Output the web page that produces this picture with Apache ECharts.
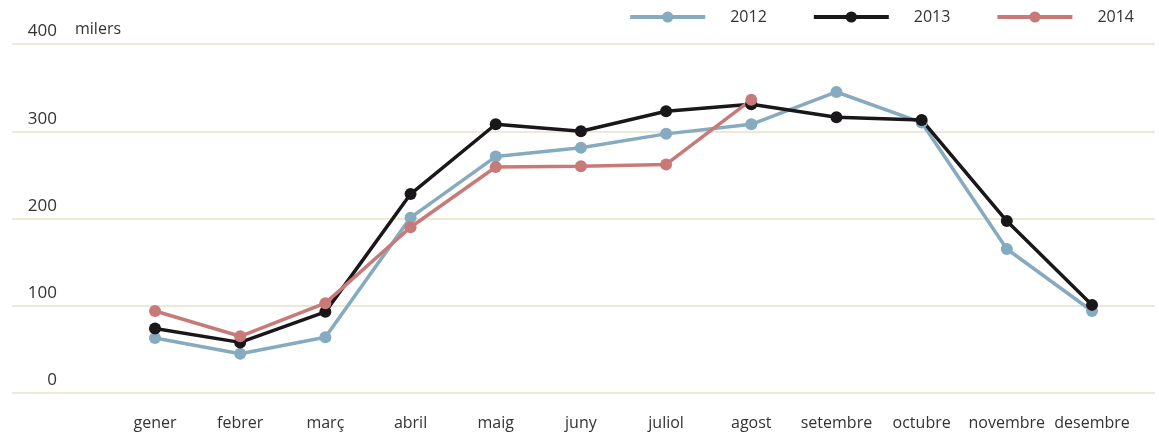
<!DOCTYPE html>
<html>
<head>
<meta charset="utf-8">
<script src="https://cdn.jsdelivr.net/npm/echarts@6/dist/echarts.min.js"></script>
<style>
  html, body { margin: 0; padding: 0; background: #fff; }
  #chart { width: 1159px; height: 433px; }
</style>
</head>
<body>
<div id="chart"></div>
<script>
// months on the x axis
const months = ['gener', 'febrer', 'març', 'abril', 'maig', 'juny', 'juliol', 'agost', 'setembre', 'octubre', 'novembre', 'desembre'];

// values in thousands (milers)
const y2012 = [63, 45, 64, 201, 271, 281, 297, 308, 345, 310, 165, 94];
const y2013 = [74, 58, 93, 228, 308, 300, 323, 331, 316, 313, 197, 101];
const y2014 = [94, 65, 103, 190, 259, 260, 262, 336, null, null, null, null];

const FONT = 'Open Sans, sans-serif';
const TEXT = '#333';

const lineSeries = (name, data, color) => ({
  name,
  type: 'line',
  xAxisIndex: 1,
  yAxisIndex: 1,
  data,
  symbol: 'circle',
  symbolSize: 12,
  showSymbol: true,
  lineStyle: { width: 3.5, color },
  itemStyle: { color },
  emphasis: { disabled: true },
  animation: false,
});

const chart = echarts.init(document.getElementById('chart'), null, { renderer: 'canvas' });

chart.setOption({
  backgroundColor: '#fff',
  animation: false,
  textStyle: { fontFamily: FONT },
  legend: {
    top: 4,
    right: 20,
    itemWidth: 75,
    itemHeight: 14,
    itemGap: 45,
    lineStyle: { width: 4 },
    textStyle: { color: TEXT, fontSize: 16, fontFamily: FONT, padding: [0, 0, 0, 20] },
    data: ['2012', '2013', '2014'],
  },
  grid: [
    // full-width grid only for the horizontal guide lines
    { left: 12, right: 4, top: 44, bottom: 40 },
    // plotting grid
    { left: 112.4, right: 24.4, top: 44, bottom: 40 },
  ],
  xAxis: [
    { gridIndex: 0, type: 'value', show: false, min: 0, max: 1 },
    {
      gridIndex: 1,
      type: 'category',
      data: months,
      boundaryGap: true,
      axisLine: { show: false },
      axisTick: { show: false },
      axisLabel: { color: TEXT, fontSize: 16, fontFamily: FONT, margin: 22, interval: 0 },
    },
  ],
  yAxis: [
    {
      gridIndex: 0,
      type: 'value',
      min: 0,
      max: 400,
      interval: 100,
      axisLine: { show: false },
      axisTick: { show: false },
      splitLine: { lineStyle: { color: '#e6e2cc', width: 1.5 } },
      axisLabel: {
        inside: true,
        align: 'right',
        margin: 45,
        verticalAlign: 'bottom',
        padding: [0, 0, 4, 0],
        color: TEXT,
        fontSize: 17,
        fontFamily: FONT,
      },
    },
    { gridIndex: 1, type: 'value', min: 0, max: 400, interval: 100, show: false },
  ],
  graphic: [
    {
      type: 'text',
      left: 75,
      top: 21,
      style: { text: 'milers', fill: TEXT, fontSize: 16, fontFamily: FONT },
    },
  ],
  series: [
    lineSeries('2012', y2012, '#86aabf'),
    lineSeries('2013', y2013, '#1a171b'),
    lineSeries('2014', y2014, '#c87a79'),
  ],
});
</script>
</body>
</html>
